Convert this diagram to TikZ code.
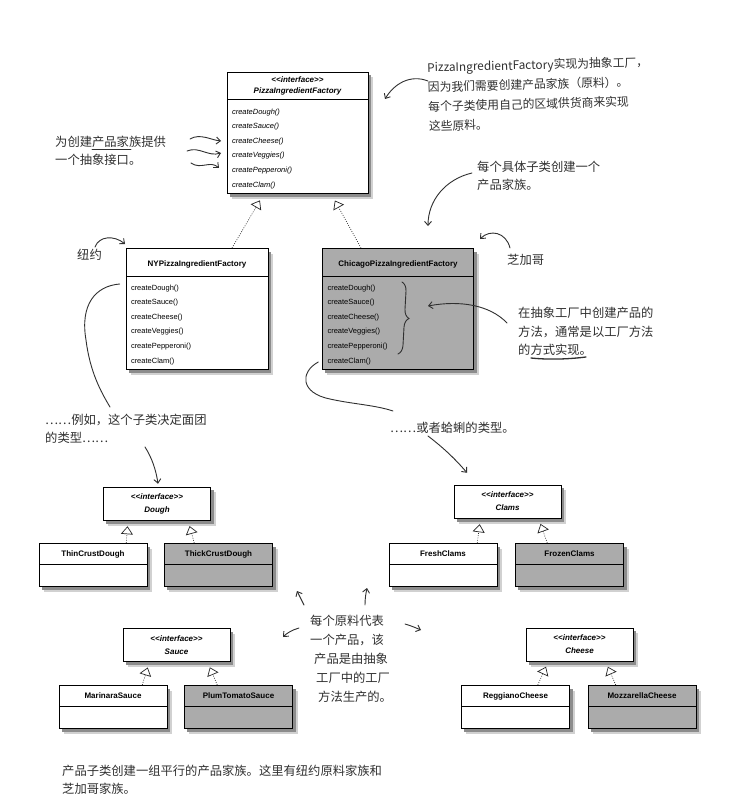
\documentclass[tikz,border=0pt]{standalone}
\usepackage{fontspec}
\newfontfamily\umlfont{Liberation Sans}
\newfontfamily\cjk{Noto Sans CJK SC}
\usetikzlibrary{positioning,arrows.meta,shapes.multipart,decorations.pathreplacing}

\pgfdeclarelayer{paper}
\pgfdeclarelayer{shade}
\pgfsetlayers{paper,shade,main}

\definecolor{boxgray}{HTML}{ABABAB}
\definecolor{inkgray}{HTML}{303030}
\definecolor{shadegray}{HTML}{8C8C8C}

% struts that fix the heights of the class compartments
\newcommand{\methtop}{\rule{0pt}{11pt}}
\newcommand{\methbot}{\rule[-3pt]{0pt}{3pt}}
\newcommand{\boxhead}{\rule[-6pt]{0pt}{21pt}}
\newcommand{\subhead}{\rule[-4.5pt]{0pt}{14pt}}

\begin{document}
\begin{tikzpicture}[x=1pt,y=-1pt,
    classbox/.style={rectangle split,rectangle split parts=2,rectangle split part align={center,left},
      draw,line width=0.5pt,fill=white,inner xsep=5pt,inner ysep=3pt,align=left,
      font=\umlfont\fontsize{7.5}{14.6}\selectfont},
    subclass/.style={classbox,minimum width=108pt,font=\umlfont\bfseries\fontsize{8}{10}\selectfont},
    iface/.style={draw,line width=0.5pt,fill=white,minimum width=107pt,minimum height=33pt,
      align=center,inner sep=2pt,font=\umlfont\bfseries\itshape\fontsize{8}{13}\selectfont},
    realize/.style={draw=black!85,line width=0.6pt,dash pattern=on 0.9pt off 1.4pt,
      -{Triangle[open,length=8pt,width=12pt,line width=0.7pt]},shorten >=6pt},
    note/.style={inner sep=0pt,align=left,text=inkgray,font=\cjk\fontsize{12.3}{18}\selectfont},
    hand/.style={draw=inkgray,line width=0.9pt,line cap=round,-{Straight Barb[length=4pt,width=7pt]}},
    handline/.style={draw=inkgray,line width=0.9pt,line cap=round}
]

\begin{pgfonlayer}{paper}
\fill[white] (0,0) rectangle (751,805);
\end{pgfonlayer}
\useasboundingbox (0,0) rectangle (751,805);

% abstract factory
\node[classbox,minimum width=141pt,anchor=north,font=\umlfont\itshape\fontsize{7.5}{14.6}\selectfont]
  (factory) at (297.5,72)
  {\fontsize{8}{10.5}\selectfont\bfseries
   \begin{tabular}{@{}c@{}}<{}<interface>{}>\\PizzaIngredientFactory\end{tabular}
   \nodepart{second}\methtop createDough()\\createSauce()\\createCheese()\\createVeggies()\\createPepperoni()\\createClam()\methbot};

% concrete factories
\node[classbox,minimum width=142pt,anchor=north] (ny) at (197,248)
  {\fontsize{8}{14.6}\selectfont\bfseries\boxhead NYPizzaIngredientFactory
   \nodepart{second}\methtop createDough()\\createSauce()\\createCheese()\\createVeggies()\\createPepperoni()\\createClam()\methbot};
\node[classbox,minimum width=151pt,fill=boxgray,right=54pt of ny] (chicago)
  {\fontsize{8}{14.6}\selectfont\bfseries\boxhead ChicagoPizzaIngredientFactory
   \nodepart{second}\methtop createDough()\\createSauce()\\createCheese()\\createVeggies()\\createPepperoni()\\createClam()\methbot};

\draw[realize,shorten >=8pt] ([xshift=35pt]ny.north) -- ([xshift=-33.5pt]factory.south);
\draw[realize,shorten >=8pt] ([xshift=-37pt]chicago.north) -- ([xshift=33.5pt]factory.south);

% product interfaces
\node[iface] (dough)  at (157,503.5) {<{}<interface>{}>\\Dough};
\node[iface] (clams)  at (507.5,501.5) {<{}<interface>{}>\\Clams};
\node[iface] (sauce)  at (176.5,645) {<{}<interface>{}>\\Sauce};
\node[iface] (cheese) at (579.5,644.5) {<{}<interface>{}>\\Cheese};

% concrete products
\node[subclass,anchor=north] (thin) at (93,543) {ThinCrustDough\subhead\nodepart{second}\rule{0pt}{16pt}};
\node[subclass,fill=boxgray,right=17pt of thin] (thick) {ThickCrustDough\subhead\nodepart{second}\rule{0pt}{16pt}};
\node[subclass,anchor=north] (fresh) at (443,543) {FreshClams\subhead\nodepart{second}\rule{0pt}{16pt}};
\node[subclass,fill=boxgray,right=18pt of fresh] (frozen) {FrozenClams\subhead\nodepart{second}\rule{0pt}{16pt}};
\node[subclass,anchor=north] (marinara) at (113,685) {MarinaraSauce\subhead\nodepart{second}\rule{0pt}{16pt}};
\node[subclass,fill=boxgray,right=17pt of marinara] (plum) {PlumTomatoSauce\subhead\nodepart{second}\rule{0pt}{16pt}};
\node[subclass,anchor=north] (reggiano) at (515.5,685) {ReggianoCheese\subhead\nodepart{second}\rule{0pt}{16pt}};
\node[subclass,fill=boxgray,right=18pt of reggiano] (mozzarella) {MozzarellaCheese\subhead\nodepart{second}\rule{0pt}{16pt}};

% shadows behind every box
\begin{pgfonlayer}{shade}
\foreach \n in {factory,ny,chicago,dough,clams,sauce,cheese,thin,thick,fresh,frozen,marinara,plum,reggiano,mozzarella}{
  \fill[black!18] ([shift={(5,5.5)}]\n.north west) rectangle ([shift={(5,5.5)}]\n.south east);
  \fill[shadegray] ([shift={(3,3.5)}]\n.north west) rectangle ([shift={(3,3.5)}]\n.south east);
}
\end{pgfonlayer}

\draw[realize] ([xshift=-21pt]thin.north east) -- ([xshift=-29pt]dough.south);
\draw[realize] ([xshift=30pt]thick.north west) -- ([xshift=31pt]dough.south);
\draw[realize] ([xshift=-20pt]fresh.north east) -- ([xshift=-27pt]clams.south);
\draw[realize] ([xshift=32pt]frozen.north west) -- ([xshift=31pt]clams.south);
\draw[realize] ([xshift=-25pt]marinara.north east) -- ([xshift=-27pt]sauce.south);
\draw[realize] ([xshift=33pt]plum.north west) -- ([xshift=31pt]sauce.south);
\draw[realize] ([xshift=-32pt]reggiano.north east) -- ([xshift=-31pt]cheese.south);
\draw[realize] ([xshift=28pt]mozzarella.north west) -- ([xshift=26pt]cheese.south);

% notes
\node[note,anchor=north west,rotate=1.5,font=\cjk\fontsize{11.8}{19.5}\selectfont] (topnote) at (427,62)
  {PizzaIngredientFactory实现为抽象工厂，\\因为我们需要创建产品家族（原料）。\\每个子类使用自己的区域供货商来实现\\这些原料。};
\node[note,anchor=north west] (leftnote) at (55,136) {为创建产品家族提供\\一个抽象接口。};
\node[note,anchor=west] (nylabel) at (77,255) {纽约};
\node[note,anchor=west] (chilabel) at (507,260) {芝加哥};
\node[note,anchor=north west] (familynote) at (477,161) {每个具体子类创建一个\\产品家族。};
\node[note,anchor=north west,font=\cjk\fontsize{12.3}{18.5}\selectfont] (methodnote) at (518,307)
  {在抽象工厂中创建产品的\\方法，通常是以工厂方法\\的方式实现。};
\node[note,anchor=north west] (doughnote) at (45,414) {……例如，这个子类决定面团\\的类型……};
\node[note,anchor=west] (clamnote) at (390,428) {……或者蛤蜊的类型。};
\node[note,anchor=north west,font=\cjk\fontsize{12.3}{19}\selectfont] (productnote) at (310,615)
  {每个原料代表\\一个产品，该\\\hspace*{4pt}产品是由抽象\\\hspace*{6pt}工厂中的工厂\\\hspace*{8pt}方法生产的。};
\node[note,anchor=north west] (bottomnote) at (62,765)
  {产品子类创建一组平行的产品家族。这里有纽约原料家族和\\芝加哥家族。};

% underlines
\draw[handline] (92,149) -- (131,149);
\draw[handline,line width=1.3pt] (531,358) .. controls (550,360) and (570,359) .. (586,357);

% brace over the methods of the Chicago factory
\draw[handline,decorate,decoration={brace,amplitude=9pt}] (402,282) -- (398,354);

% pointers
\coordinate (top-tip) at (385,99);
\draw[hand] ([shift={(1,19)}]topnote.north west) .. controls (410,74) and (394,84) .. (top-tip);

\coordinate (sq1) at (221,141);
\coordinate (sq2) at (221,153);
\coordinate (sq3) at (219,168);
\draw[hand] ([shift={(135,3)}]leftnote.north west) .. controls (200,133) and (211,140) .. (sq1);
\draw[hand] ([shift={(132,15)}]leftnote.north west) .. controls (199,146) and (208,157) .. (sq2);
\draw[hand] ([shift={(136,27)}]leftnote.north west) .. controls (201,170) and (210,160) .. (sq3);

\coordinate (ny-tip) at (125,244);
\draw[hand] ([shift={(18,-8)}]nylabel.west) .. controls (99,236) and (114,235) .. (ny-tip);

\draw[handline] ([shift={(-6,36)}]ny.north west) .. controls (95,286) and (80,305) .. (86,340)
  .. controls (90,372) and (101,392) .. ([shift={(65,-7)}]doughnote.north west);
\draw[hand] ([shift={(100,33)}]doughnote.north west) .. controls (152,458) and (156,470) .. ([shift={(1,-3)}]dough.north);

\draw[handline] ([shift={(-4,114)}]chicago.north west) .. controls (300,372) and (300,393) .. (330,399)
  .. controls (352,404) and (375,405) .. ([shift={(3,-17)}]clamnote.west);
\draw[hand] ([shift={(38,8)}]clamnote.west) .. controls (445,449) and (456,460) .. ([shift={(-40.5,-12)}]clams.north);

\coordinate (fam-tip) at (428,226);
\draw[hand] ([shift={(-5,12)}]familynote.north west) .. controls (446,179) and (428,200) .. (fam-tip);

\coordinate (chi-tip) at (480,239);
\draw[hand] ([shift={(3,-12)}]chilabel.west) .. controls (506,232) and (490,229) .. (chi-tip);

\coordinate (meth-tip) at (428,306);
\draw[hand] ([shift={(-11,16)}]methodnote.north west) .. controls (490,305) and (460,300) .. (meth-tip);

\coordinate (p1) at (297,591);
\coordinate (p2) at (367,588);
\coordinate (p3) at (283,637);
\coordinate (p4) at (421,630);
\draw[hand] ([shift={(-6,-10)}]productnote.north west) -- (p1);
\draw[hand] ([shift={(55,-10)}]productnote.north west) .. controls (365,598) and (366,593) .. (p2);
\draw[hand] ([shift={(-11,13)}]productnote.north west) .. controls (292,630) and (287,633) .. (p3);
\draw[hand] ([shift={(95,9)}]productnote.north west) .. controls (412,626) and (416,628) .. (p4);

\end{tikzpicture}
\end{document}
